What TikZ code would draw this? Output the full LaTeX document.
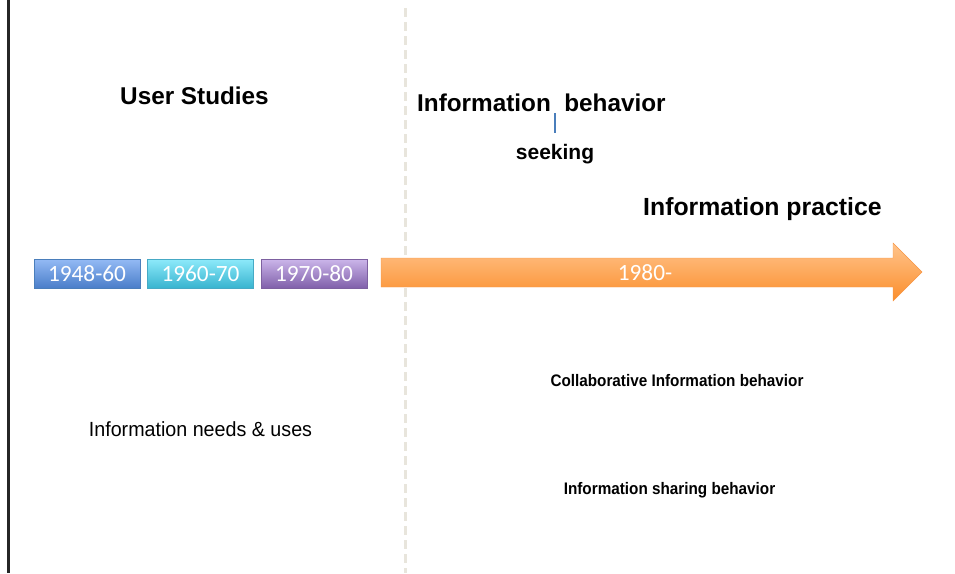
\documentclass[tikz,border=0pt]{standalone}
\usepackage{fontspec}
\setmainfont{Liberation Sans}
\newfontfamily\yearfont{Carlito}
\usepackage{xcolor}
\definecolor{bluetop}{HTML}{94BAF5}
\definecolor{bluebot}{HTML}{4A7EC9}
\definecolor{blueedge}{HTML}{4A7EBB}
\definecolor{cyantop}{HTML}{8EEAFB}
\definecolor{cyanbot}{HTML}{38B4CF}
\definecolor{cyanedge}{HTML}{46AAC5}
\definecolor{purpletop}{HTML}{CAB4E9}
\definecolor{purplebot}{HTML}{7F5FA9}
\definecolor{purpleedge}{HTML}{7D60A0}
\definecolor{orangetop}{HTML}{FFC48C}
\definecolor{orangebot}{HTML}{FB8E2C}
\definecolor{orangeedge}{HTML}{F79646}
\definecolor{divider}{HTML}{E8E5DC}
\usetikzlibrary{positioning}

\begin{document}
\begin{tikzpicture}[x=1pt, y=-1pt,
    every node/.style={inner sep=0pt},
    yearbox/.style={minimum width=106pt, minimum height=29pt, text=white, font=\yearfont\fontsize{23.3}{26}\selectfont},
    heading/.style={font=\bfseries\fontsize{24.3}{28}\selectfont},
    smallhead/.style={font=\bfseries\fontsize{16.7}{20}\selectfont}]

\useasboundingbox (0,0) rectangle (955,573);

% frame line and the 1980 divider
\draw[line width=2.5pt, color=black!85] (8.5,0) -- (8.5,573);
\draw[line width=3pt, color=divider, dash pattern=on 9pt off 5pt] (405,8) -- (405,573);

% periods before 1980
\node[yearbox, draw=blueedge, top color=bluetop, bottom color=bluebot] (p1948) at (87,273.5) {1948-60};
\node[yearbox, draw=cyanedge, top color=cyantop, bottom color=cyanbot] (p1960) at (200.5,273.5) {1960-70};
\node[yearbox, draw=purpleedge, top color=purpletop, bottom color=purplebot] (p1970) at (314,274) {1970-80};

% the open period
\path[draw=orangeedge, top color=orangetop, bottom color=orangebot] (381,258) -- (893,258) -- (893,243) -- (922,272) -- (893,301) -- (893,287) -- (381,287) -- cycle;
\node[yearbox] (p1980) at (645,272.5) {1980-};

\node[heading, anchor=base] (userstudies) at (194.5,104.5) {User Studies};
\node[font=\fontsize{20.5}{24}\selectfont, anchor=base] (needs) at (200.5,436.5) {\scalebox{0.96}[1]{Information needs \& uses}};

\node[heading, anchor=base west] (infobeh) at (417,111.5) {Information\ \ behavior};
\node[font=\bfseries\fontsize{21}{24}\selectfont, anchor=base] (seek) at (555,159) {seeking};
\coordinate (tickup) at (555,113);
\coordinate (tickdown) at (555,133);
\draw[line width=2.5pt, color=blueedge] (tickup) -- (tickdown);

\node[heading, font=\bfseries\fontsize{24.8}{28}\selectfont, anchor=base west] (practice) at (643,215) {Information practice};

\node[smallhead, anchor=base] (collab) at (677,386) {\scalebox{0.915}[1]{Collaborative Information behavior}};
\node[smallhead, anchor=base] (sharing) at (669.5,494.5) {\scalebox{0.915}[1]{Information sharing behavior}};

\end{tikzpicture}
\end{document}
